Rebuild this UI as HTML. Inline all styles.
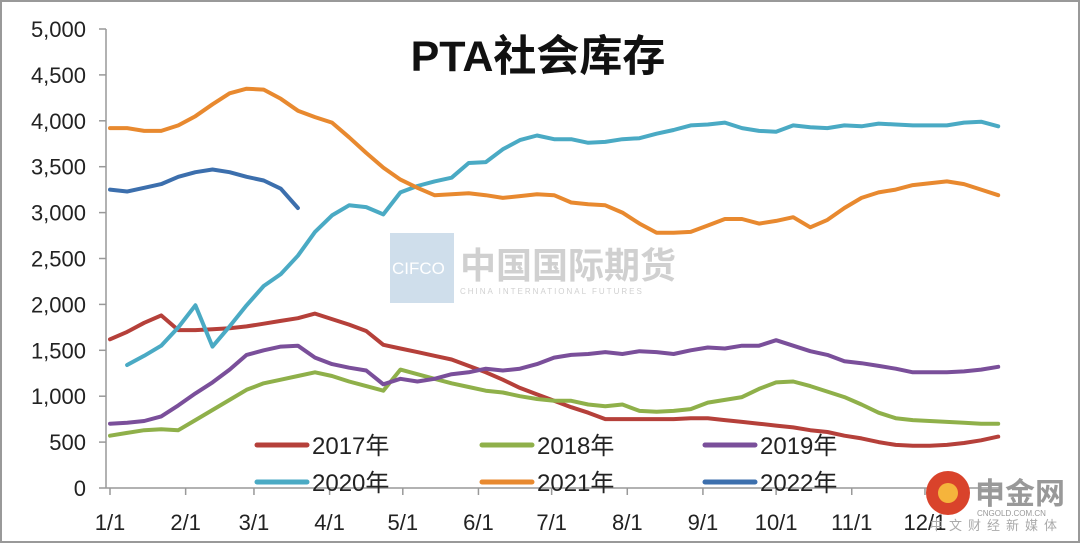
<!DOCTYPE html>
<html><head><meta charset="utf-8"><style>
html,body{margin:0;padding:0;background:#fff}
svg{display:block}
text{font-family:"Liberation Sans","Noto Sans CJK SC",sans-serif}
</style></head><body>
<svg id="chart" width="1080" height="543">
<rect x="1" y="1" width="1078" height="541" fill="#fff" stroke="#999" stroke-width="2"/>
<text x="538" y="71" text-anchor="middle" font-size="43" font-weight="bold" fill="#111">PTA社会库存</text>
<g opacity="0.55">
<rect x="390" y="233" width="64" height="70" fill="#a9c4dc"/>
<text x="392" y="274" font-size="17" fill="#fff" font-family="Liberation Serif">CIFCO</text>
<text x="460" y="278" font-size="36" font-weight="bold" fill="#aaa">中国国际期货</text>
<text x="460" y="294" font-size="8" fill="#aaa" letter-spacing="2">CHINA INTERNATIONAL FUTURES</text>
</g>
<g id="axes"></g>
<g id="series"></g>
<g id="legend"></g>
<g>
<circle cx="948" cy="493" r="22" fill="#d9432b"/>
<circle cx="948" cy="493" r="10" fill="#f5b43c"/>
<text x="975" y="504" font-size="30" font-weight="bold" fill="#999">申金网</text>
<text x="977" y="516" font-size="8" fill="#999">CNGOLD.COM.CN</text>
<text x="930" y="530" font-size="13" fill="#aaa" letter-spacing="6">中文财经新媒体</text>
</g>
</svg>
<script>
const months=["1/1","2/1","3/1","4/1","5/1","6/1","7/1","8/1","9/1","10/1","11/1","12/1"];
const monthDays=[0,31,59,90,120,151,181,212,243,273,304,334];
const yTicks=[0,500,1000,1500,2000,2500,3000,3500,4000,4500,5000];
const seriesNames=["2017年","2018年","2019年","2020年","2021年","2022年"];
const s2017=[1620,1700,1800,1880,1720,1720,1730,1740,1760,1790,1820,1850,1900,1840,1780,1710,1560,1520,1480,1440,1400,1330,1260,1180,1090,1020,950,880,820,750,750,750,750,750,760,760,740,720,700,680,660,630,610,570,540,500,470,460,460,470,490,520,560];
const s2018=[570,600,630,640,630,740,850,960,1070,1140,1180,1220,1260,1220,1160,1110,1060,1290,1240,1190,1140,1100,1060,1040,1000,970,950,950,910,890,910,840,830,840,860,930,960,990,1080,1150,1160,1110,1050,990,910,820,760,740,730,720,710,700,700];
const s2019=[700,710,730,780,900,1030,1150,1290,1450,1500,1540,1550,1420,1350,1310,1280,1130,1190,1160,1190,1240,1260,1300,1280,1300,1350,1420,1450,1460,1480,1460,1490,1480,1460,1500,1530,1520,1550,1550,1610,1550,1490,1450,1380,1360,1330,1300,1260,1260,1260,1270,1290,1320];
const s2020=[null,1340,1440,1550,1750,1990,1540,1760,1990,2200,2330,2530,2790,2970,3080,3060,2980,3220,3290,3340,3380,3540,3550,3690,3790,3840,3800,3800,3760,3770,3800,3810,3860,3900,3950,3960,3980,3920,3890,3880,3950,3930,3920,3950,3940,3970,3960,3950,3950,3950,3980,3990,3940];
const s2021=[3920,3920,3890,3890,3950,4050,4180,4300,4350,4340,4240,4110,4040,3980,3820,3650,3490,3360,3270,3190,3200,3210,3190,3160,3180,3200,3190,3110,3090,3080,3000,2880,2780,2780,2790,2860,2930,2930,2880,2910,2950,2840,2920,3050,3160,3220,3250,3300,3320,3340,3310,3250,3190];
const s2022=[3250,3230,3270,3310,3390,3440,3470,3440,3390,3350,3260,3050];
const allSeries=[s2017,s2018,s2019,s2020,s2021,s2022];
const colors=["#b5403a","#8fb04a","#7a4f9a","#4aaac4","#e8892f","#3c6fad"];
const NS="http://www.w3.org/2000/svg";
const x0=110,pxPerDay=2.44,yBase=488,yTop=29,yMax=5000;
const xDay=d=>x0+d*pxPerDay;
const xWeek=i=>xDay(i*7);
const yVal=v=>yBase-(v/yMax)*(yBase-yTop);
function mk(tag,attrs,parent){const e=document.createElementNS(NS,tag);for(const k in attrs)e.setAttribute(k,attrs[k]);parent.appendChild(e);return e;}
const axes=document.getElementById('axes');
let yl=mk('line',{x1:106,y1:yTop,x2:106,y2:yBase,stroke:'#999','stroke-width':1.5},axes);


yTicks.forEach(t=>{
 const tk=mk('line',{x1:99,x2:106,y1:yVal(t),y2:yVal(t),stroke:'#999','stroke-width':1.5},axes);
 
 
 const tx=mk('text',{x:86,y:yVal(t)+8,'text-anchor':'end','font-size':22,fill:'#222'},axes);
 tx.textContent=t.toLocaleString('en-US');
 
 
});
let xl=mk('line',{x1:106,y1:yBase,x2:1000,y2:yBase,stroke:'#999','stroke-width':1.5},axes);


months.forEach((m,i)=>{
 const x=xDay(monthDays[i]);
 const tk=mk('line',{x1:x,x2:x,y1:yBase,y2:yBase+7,stroke:'#999','stroke-width':1.5},axes);
 
 
 const tx=mk('text',{x:x,y:530,'text-anchor':'middle','font-size':22,fill:'#222'},axes);
 tx.textContent=m;
 
 
});
const sg=document.getElementById('series');
allSeries.forEach((s,k)=>{
 let d='',pen=false;
 s.forEach((v,i)=>{ if(v==null){pen=false;return;} d+=(pen?'L':'M')+xWeek(i).toFixed(1)+','+yVal(v).toFixed(1); pen=true;});
 const p=mk('path',{d:d,fill:'none',stroke:colors[k],'stroke-width':4,'stroke-linejoin':'round','stroke-linecap':'round'},sg);
 
 
});
const lg=document.getElementById('legend');
const lx=[257,482,705],ly=[445,482];
seriesNames.forEach((n,k)=>{
 const x=lx[k%3],y=ly[Math.floor(k/3)];
 const g=mk('g',{},lg);
 
 
 mk('line',{x1:x,x2:x+50,y1:y,y2:y,stroke:colors[k],'stroke-width':5,'stroke-linecap':'round'},g);
 const t=mk('text',{x:x+55,y:y+9,'font-size':24,fill:'#222'},g);
 t.textContent=n;
});
</script>
</body></html>
